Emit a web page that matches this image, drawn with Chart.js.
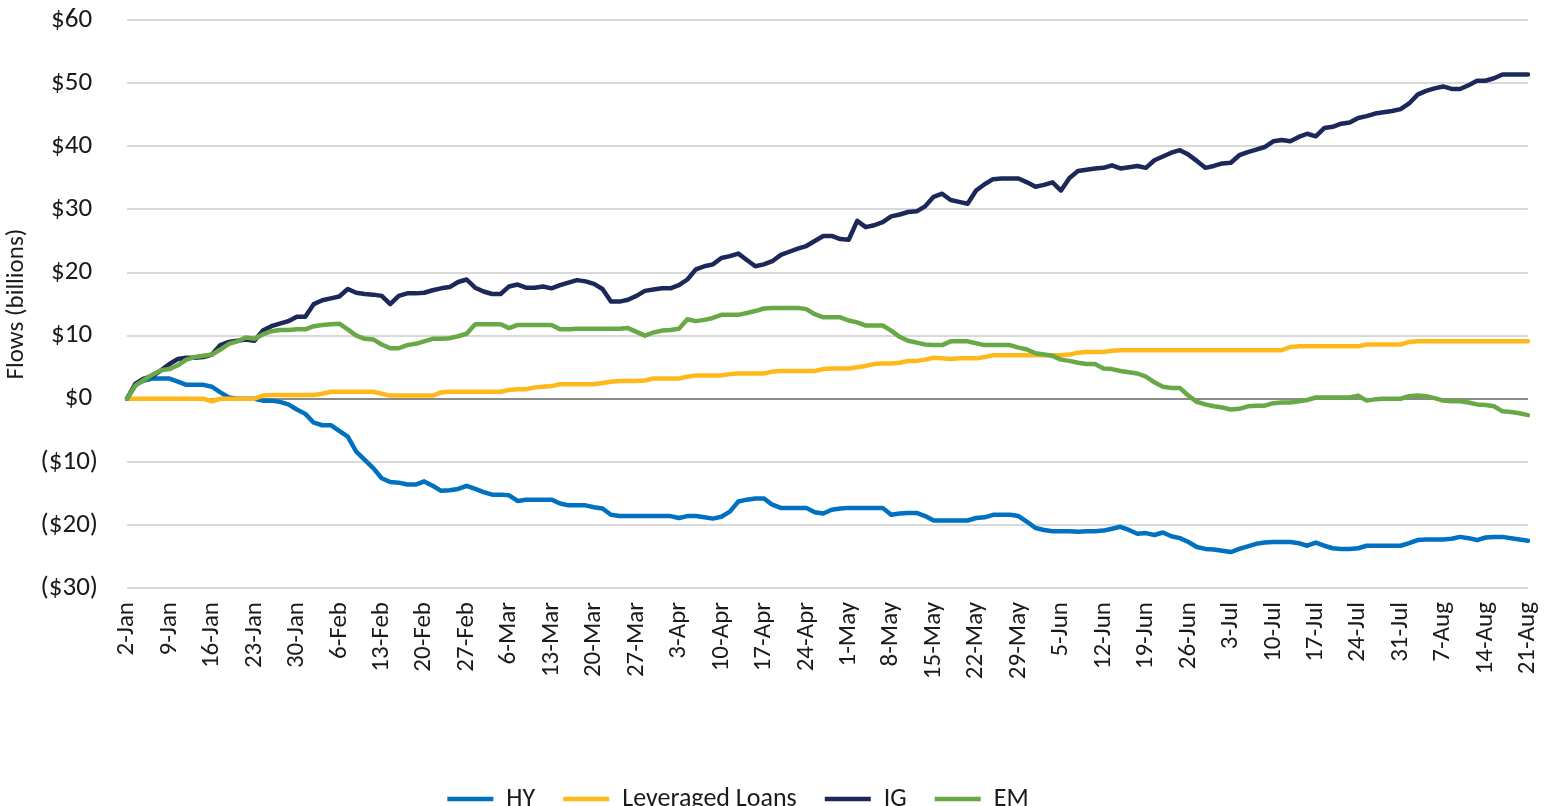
<!DOCTYPE html>
<html>
<head>
<meta charset="utf-8">
<script src="https://cdn.jsdelivr.net/npm/chart.js@4.4.1/dist/chart.umd.min.js"></script>
<style>
  html, body { margin: 0; padding: 0; background: #fff; }
  #wrap { width: 1546px; height: 806px; position: relative; }
</style>
</head>
<body>
<div id="wrap"><canvas id="flows"></canvas></div>
<script>
// cumulative fund flows, $bn, one value per business day (2-Jan .. 21-Aug)
const hyFlows = [
  0, 2.2, 2.9, 3.2, 3.2, 3.2, 2.7, 2.2, 2.2, 2.2,
  1.9, 1.0, 0.2, 0, 0, 0, -0.3, -0.3, -0.5, -0.9,
  -1.7, -2.4, -3.8, -4.2, -4.2, -5.1, -6.0, -8.4, -9.7, -11.0,
  -12.6, -13.2, -13.3, -13.6, -13.6, -13.1, -13.8, -14.6, -14.5, -14.3,
  -13.8, -14.3, -14.8, -15.2, -15.2, -15.3, -16.2, -16.0, -16.0, -16.0,
  -16.0, -16.6, -16.9, -16.9, -16.9, -17.2, -17.4, -18.4, -18.6, -18.6,
  -18.6, -18.6, -18.6, -18.6, -18.6, -18.9, -18.6, -18.6, -18.8, -19.0,
  -18.7, -17.9, -16.3, -16.0, -15.8, -15.8, -16.8, -17.3, -17.3, -17.3,
  -17.3, -18.0, -18.2, -17.6, -17.4, -17.3, -17.3, -17.3, -17.3, -17.3,
  -18.4, -18.2, -18.1, -18.1, -18.6, -19.3, -19.3, -19.3, -19.3, -19.3,
  -18.9, -18.8, -18.4, -18.4, -18.4, -18.6, -19.5, -20.5, -20.8, -21.0,
  -21.0, -21.0, -21.1, -21.0, -21.0, -20.9, -20.6, -20.3, -20.8, -21.4,
  -21.3, -21.6, -21.2, -21.8, -22.1, -22.7, -23.5, -23.8, -23.9, -24.1,
  -24.3, -23.8, -23.4, -23.0, -22.8, -22.7, -22.7, -22.7, -22.9, -23.3,
  -22.8, -23.3, -23.7, -23.8, -23.8, -23.7, -23.3, -23.3, -23.3, -23.3,
  -23.3, -22.9, -22.4, -22.3, -22.3, -22.3, -22.2, -21.9, -22.1, -22.4,
  -22.0, -21.9, -21.9, -22.1, -22.3, -22.5
];
const loanFlows = [
  0, 0, 0, 0, 0, 0, 0, 0, 0, 0,
  -0.4, 0, 0, 0, 0, 0, 0.5, 0.6, 0.6, 0.6,
  0.6, 0.6, 0.6, 0.8, 1.1, 1.1, 1.1, 1.1, 1.1, 1.1,
  0.8, 0.5, 0.5, 0.5, 0.5, 0.5, 0.5, 1.0, 1.1, 1.1,
  1.1, 1.1, 1.1, 1.1, 1.1, 1.4, 1.5, 1.5, 1.8, 1.9,
  2.0, 2.3, 2.3, 2.3, 2.3, 2.3, 2.5, 2.7, 2.8, 2.8,
  2.8, 2.9, 3.2, 3.2, 3.2, 3.2, 3.5, 3.7, 3.7, 3.7,
  3.7, 3.9, 4.0, 4.0, 4.0, 4.0, 4.3, 4.4, 4.4, 4.4,
  4.4, 4.4, 4.7, 4.8, 4.8, 4.8, 5.0, 5.2, 5.5, 5.6,
  5.6, 5.7, 6.0, 6.0, 6.2, 6.5, 6.4, 6.3, 6.4, 6.4,
  6.4, 6.6, 6.9, 6.9, 6.9, 6.9, 6.9, 6.9, 6.9, 6.9,
  6.9, 7.0, 7.3, 7.4, 7.4, 7.4, 7.6, 7.7, 7.7, 7.7,
  7.7, 7.7, 7.7, 7.7, 7.7, 7.7, 7.7, 7.7, 7.7, 7.7,
  7.7, 7.7, 7.7, 7.7, 7.7, 7.7, 7.7, 8.2, 8.3, 8.3,
  8.3, 8.3, 8.3, 8.3, 8.3, 8.3, 8.6, 8.6, 8.6, 8.6,
  8.6, 9.0, 9.1, 9.1, 9.1, 9.1, 9.1, 9.1, 9.1, 9.1,
  9.1, 9.1, 9.1, 9.1, 9.1, 9.1
];
const igFlows = [
  0, 2.4, 3.2, 3.6, 4.5, 5.5, 6.3, 6.5, 6.5, 6.6,
  7.0, 8.5, 9.0, 9.2, 9.4, 9.2, 10.8, 11.5, 11.9, 12.3,
  13.0, 13.0, 15.0, 15.6, 15.9, 16.2, 17.4, 16.8, 16.6, 16.5,
  16.3, 15.0, 16.3, 16.7, 16.7, 16.8, 17.2, 17.5, 17.7, 18.5,
  18.9, 17.6, 17.0, 16.6, 16.6, 17.8, 18.1, 17.6, 17.6, 17.8,
  17.5, 18.0, 18.4, 18.8, 18.6, 18.2, 17.4, 15.4, 15.4, 15.7,
  16.3, 17.1, 17.3, 17.5, 17.5, 18.0, 18.9, 20.5, 21.0, 21.3,
  22.3, 22.6, 23.0, 22.0, 21.0, 21.3, 21.8, 22.8, 23.3, 23.8,
  24.2, 25.0, 25.8, 25.8, 25.3, 25.2, 28.2, 27.2, 27.5, 28.0,
  28.9, 29.2, 29.6, 29.7, 30.5, 32.0, 32.5, 31.5, 31.2, 30.9,
  33.0, 34.0, 34.8, 34.9, 34.9, 34.9, 34.3, 33.6, 33.9, 34.3,
  33.0, 35.0, 36.1, 36.3, 36.5, 36.6, 37.0, 36.5, 36.7, 36.9,
  36.6, 37.8, 38.4, 39.0, 39.4, 38.7, 37.7, 36.6, 36.9, 37.3,
  37.4, 38.6, 39.1, 39.5, 39.9, 40.8, 41.0, 40.8, 41.5, 42.0,
  41.6, 42.9, 43.1, 43.6, 43.8, 44.5, 44.8, 45.2, 45.4, 45.6,
  45.9, 46.8, 48.2, 48.8, 49.2, 49.5, 49.1, 49.1, 49.7, 50.4,
  50.4, 50.8, 51.4, 51.4, 51.4, 51.4
];
const emFlows = [
  0, 2.1, 3.0, 3.8, 4.5, 4.7, 5.3, 6.2, 6.6, 6.8,
  7.0, 7.8, 8.7, 9.1, 9.7, 9.5, 10.2, 10.7, 10.9, 10.9,
  11.0, 11.0, 11.5, 11.7, 11.8, 11.9, 11.0, 10.0, 9.5, 9.4,
  8.6, 8.0, 8.0, 8.5, 8.7, 9.1, 9.5, 9.5, 9.6, 9.9,
  10.3, 11.8, 11.8, 11.8, 11.8, 11.2, 11.7, 11.7, 11.7, 11.7,
  11.7, 11.0, 11.0, 11.1, 11.1, 11.1, 11.1, 11.1, 11.1, 11.2,
  10.6, 10.0, 10.5, 10.8, 10.9, 11.1, 12.6, 12.3, 12.5, 12.8,
  13.3, 13.3, 13.3, 13.6, 13.9, 14.3, 14.4, 14.4, 14.4, 14.4,
  14.2, 13.4, 12.9, 12.9, 12.9, 12.4, 12.1, 11.6, 11.6, 11.6,
  10.8, 9.8, 9.2, 8.9, 8.6, 8.5, 8.5, 9.1, 9.1, 9.1,
  8.8, 8.5, 8.5, 8.5, 8.5, 8.1, 7.8, 7.2, 7.0, 6.8,
  6.2, 6.0, 5.7, 5.5, 5.5, 4.8, 4.7, 4.4, 4.2, 4.0,
  3.5, 2.6, 1.9, 1.7, 1.7, 0.5, -0.5, -0.9, -1.2, -1.4,
  -1.7, -1.6, -1.2, -1.1, -1.1, -0.7, -0.6, -0.6, -0.4, -0.2,
  0.2, 0.2, 0.2, 0.2, 0.2, 0.5, -0.3, -0.1, 0.0, 0.0,
  0.0, 0.4, 0.5, 0.4, 0.1, -0.3, -0.4, -0.4, -0.6, -0.9,
  -1.0, -1.2, -2.0, -2.1, -2.3, -2.6
];

const seriesNames = ['HY', 'Leveraged Loans', 'IG', 'EM'];
const seriesColors = ['#0070C0', '#FFB81C', '#1C2859', '#69A846'];

// business days from 2-Jan-2019 to 21-Aug-2019, labelled like "2-Jan"
const monthNames = ['Jan','Feb','Mar','Apr','May','Jun','Jul','Aug','Sep','Oct','Nov','Dec'];
const days = [];
for (let d = new Date(2019, 0, 2); d <= new Date(2019, 7, 21); d.setDate(d.getDate() + 1)) {
    if (d.getDay() === 0 || d.getDay() === 6) continue;
    days.push(d.getDate() + '-' + monthNames[d.getMonth()]);
}

const fontStack = "Carlito, Lato, 'Liberation Sans', sans-serif";
Chart.defaults.font.family = fontStack;
Chart.defaults.color = '#1a1a1a';

const allSeries = [hyFlows, loanFlows, igFlows, emFlows];
const datasets = allSeries.map((vals, i) => ({
    label: seriesNames[i],
    data: vals,
    borderColor: seriesColors[i],
    backgroundColor: seriesColors[i],
    borderWidth: 4.5,
    borderCapStyle: 'round',
    borderJoinStyle: 'round',
    pointRadius: 0,
    tension: 0,
    order: 3 - i   // EM on top, as in the original
}));

// nudge the legend a little left of centre, like the original
const legendShift = {
    id: 'legendShift',
    afterLayout(chart) {
        chart.legend.left -= 35;
        chart.legend.right -= 35;
    }
};

new Chart(document.getElementById('flows'), {
    type: 'line',
    data: { labels: days, datasets },
    plugins: [legendShift],
    options: {
        responsive: true,
        maintainAspectRatio: false,
        animation: false,
        layout: { padding: { top: 0, right: 0, left: 0, bottom: -16 } },
        plugins: {
            tooltip: { enabled: false },
            legend: {
                position: 'bottom',
                labels: {
                    usePointStyle: true,
                    pointStyle: 'line',
                    pointStyleWidth: 46,
                    padding: 28,
                    font: { size: 26 },
                    sort: (a, b) => a.datasetIndex - b.datasetIndex
                }
            }
        },
        scales: {
            x: {
                grid: { display: false },
                border: { display: false },
                ticks: {
                    autoSkip: false,
                    maxRotation: 90,
                    minRotation: 90,
                    padding: 6,
                    font: { size: 25 },
                    callback: function (value, index) {
                        return index % 5 === 0 ? this.getLabelForValue(value) : null;
                    }
                },
                afterFit: (scale) => {
                    scale.height = 170;
                    scale.paddingRight = 18;   // let the plot run close to the right edge
                }
            },
            y: {
                min: -30,
                max: 60,
                border: { display: false },
                grid: {
                    drawTicks: true,
                    tickLength: 25,
                    tickColor: 'rgba(0,0,0,0)',
                    lineWidth: 2,
                    color: (ctx) => ctx.tick && ctx.tick.value === 0 ? '#8A8A8A' : '#D9D9D9'
                },
                ticks: {
                    stepSize: 10,
                    padding: 4,
                    font: { size: 27 },
                    callback: (v) => v < 0 ? '($' + (-v) + ')' : '$' + v + '\u2008'
                },
                title: {
                    display: true,
                    text: 'Flows (billions)',
                    font: { size: 25 },
                    padding: { top: 2, bottom: 0 }
                },
                afterFit: (scale) => { scale.width = 127; }
            }
        }
    }
});
</script>
</body>
</html>
